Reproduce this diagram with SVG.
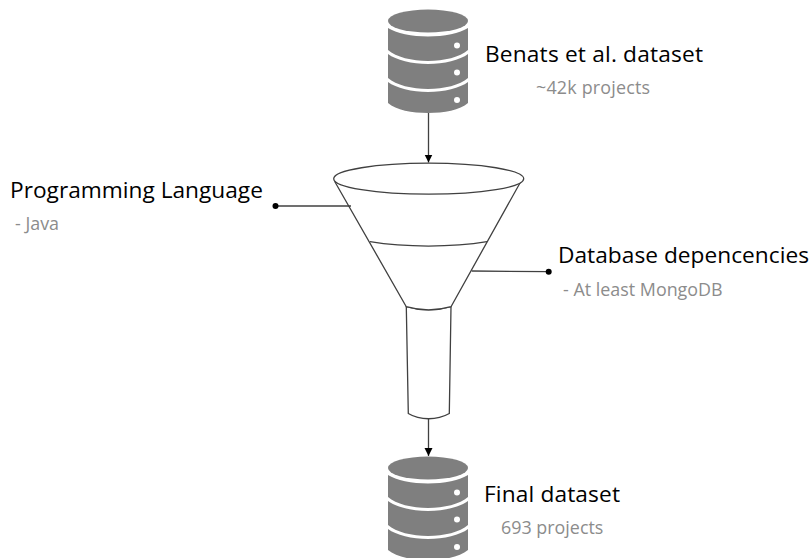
<svg xmlns="http://www.w3.org/2000/svg" width="812" height="558" viewBox="0 0 812 558">
<style>
.ln{fill:none;stroke:#404040;stroke-width:1.3}
.fn{fill:#fff;stroke:#404040;stroke-width:1.3}
.db{fill:#7f7f7f}
.hole{fill:#fff}
.t{font-family:"Open Sans",sans-serif;font-size:22.700px;fill:#000}
.s{font-family:"Open Sans",sans-serif;font-size:17.900px;fill:#8c8c8c}
</style>
<defs>
<marker id="arr" markerUnits="userSpaceOnUse" markerWidth="9" markerHeight="9" refX="8" refY="4" orient="auto"><path d="M0 0L8 4L0 8Z" fill="#000"/></marker>
<g id="dbshape">
<ellipse class="db" cx="428" cy="21" rx="40" ry="11.5"/>
<path class="db" d="M388 28C396 33 412 36.500 428 36.500S460 33 468 28V50C460 57 444 61 428 61S396 57 388 50Z"/>
<path class="db" d="M388 54C396 60 412 64 428 64S460 60 468 54V78C460 85 444 89 428 89S396 85 388 78Z"/>
<path class="db" d="M388 82C396 88 412 92 428 92S460 88 468 82V103C460 110 444 113 428 113S396 110 388 103Z"/>
<circle class="hole" cx="457" cy="45.500" r="3"/>
<circle class="hole" cx="457" cy="72.500" r="3"/>
<circle class="hole" cx="457" cy="100" r="3"/>
</g>
</defs>
<g id="source-db"><use href="#dbshape"/></g>
<g id="final-db"><use href="#dbshape" y="447"/></g>
<g id="funnel">
<path class="fn" d="M406.300 306.700L408.300 413.500C420 420.500 437 420.500 449.300 413.500L451 306.700C437 310.700 420 310.700 406.300 306.700Z"/>
<path class="fn" d="M335 182L406.300 306.700C420 310.700 437 310.700 451 306.700L520 183Z"/>
<path class="ln" d="M370 241.700C405 247.500 452 247.500 487 241.700"/>
<ellipse class="fn" cx="428.700" cy="178.700" rx="95" ry="15.500"/>
</g>
<g id="connectors">
<path class="ln" d="M428.500 113V162.500" marker-end="url(#arr)"/>
<path class="ln" d="M428.500 419V456" marker-end="url(#arr)"/>
<path class="ln" d="M275.500 206H351"/>
<circle cx="275.500" cy="206" r="3" fill="#000"/>
<path class="ln" d="M471.700 271L548.500 271.700"/>
<circle cx="548.700" cy="271.700" r="3" fill="#000"/>
</g>
<g id="label-source"><text class="t" x="485" y="61.700" textLength="218">Benats et al. dataset</text><text class="s" x="536" y="94" textLength="114">~42k projects</text></g>
<g id="label-language"><text class="t" x="10" y="198">Programming Language</text><text class="s" x="15" y="230">- Java</text></g>
<g id="label-database"><text class="t" x="558" y="262.700" textLength="251">Database depencencies</text><text class="s" x="563" y="296">- At least MongoDB</text></g>
<g id="label-final"><text class="t" x="484" y="502" textLength="136">Final dataset</text><text class="s" x="501" y="533.700">693 projects</text></g>
</svg>
